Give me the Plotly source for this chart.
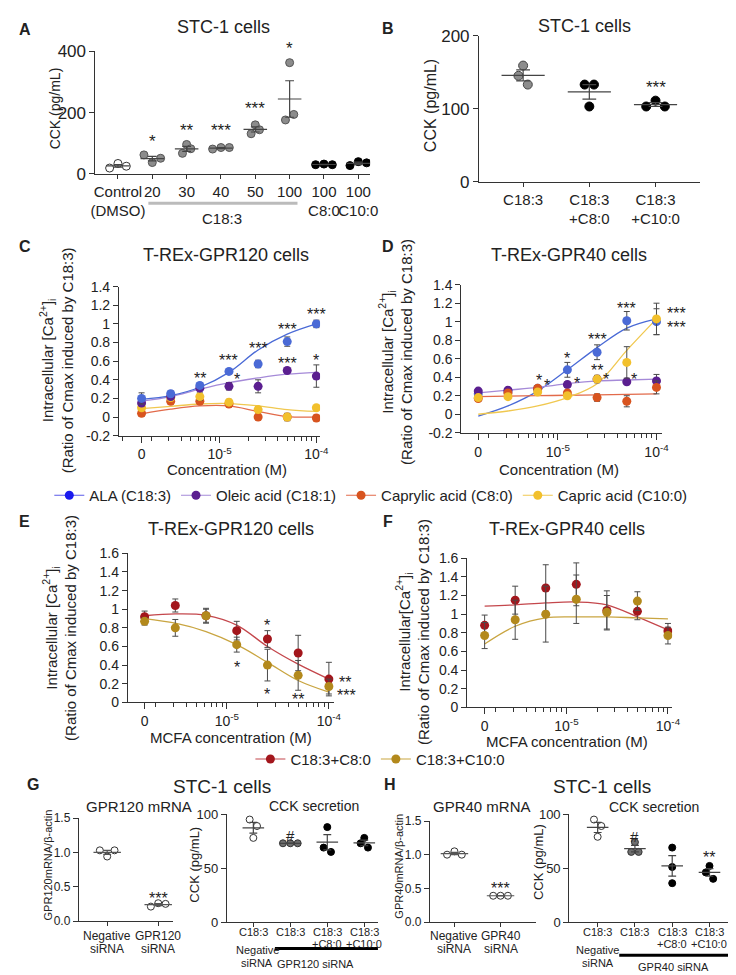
import numpy as np
import plotly.graph_objects as go

W, H = 736, 975
FONT = "Liberation Sans, Arial, sans-serif"
INK = "#222222"

# ---------------- data ----------------
# Panel A : STC-1 cells, CCK (pg/mL)
a_labels = ["Control<br>(DMSO)", "20", "30", "40", "50", "100", "100<br>C8:0", "100<br>C10:0"]
a_control = [19, 34, 25]
a_c18_20 = [62, 37, 51]
a_c18_30 = [96, 67, 82]
a_c18_40 = [81, 86, 86]
a_c18_50 = [160, 131, 144]
a_c18_100 = [363, 176, 194]
a_c8_100 = [30, 32, 30]
a_c10_100 = [27, 40, 36]
a_stars = ["", "*", "**", "***", "***", "*", "", ""]
a_star_y = [0, 117, 155, 155, 226, 421, 0, 0]

# Panel B
b_labels = ["C18:3", "C18:3<br>+C8:0", "C18:3<br>+C10:0"]
b_c18 = [159, 145, 133]
b_c18_c8 = [133, 133, 103]
b_c18_c10 = [103, 111, 103]

# Concentrations (M) for C-F; first point is the "0" label position
conc = [1.5625e-6, 3.125e-6, 6.25e-6, 1.25e-5, 2.5e-5, 5e-5, 1e-4]
conc_ticktext = ["0", "10<sup>-5</sup>", "10<sup>-4</sup>"]
conc_tickvals = [1.5625e-6, 1e-5, 1e-4]

# Panel C : T-REx-GPR120
c_ala = [0.20, 0.25, 0.34, 0.49, 0.57, 0.81, 1.00]
c_ala_err = [0.06, 0.03, 0.03, 0.02, 0.04, 0.05, 0.04]
c_ala_fit = [0.19, 0.23, 0.32, 0.48, 0.72, 0.89, 1.00]
c_ole = [0.15, 0.22, 0.31, 0.33, 0.33, 0.50, 0.44]
c_ole_err = [0.02, 0.02, 0.02, 0.04, 0.07, 0.02, 0.12]
c_ole_fit = [0.17, 0.22, 0.30, 0.37, 0.42, 0.46, 0.48]
c_cpy = [0.04, 0.17, 0.17, 0.14, 0.00, 0.00, -0.01]
c_cpy_err = [0.03, 0.03, 0.02, 0.03, 0.03, 0.03, 0.03]
c_cpy_fit = [0.035, 0.085, 0.12, 0.12, 0.06, 0.005, 0.0]
c_cpr = [0.10, 0.21, 0.22, 0.16, 0.08, 0.00, 0.10]
c_cpr_err = [0.03, 0.03, 0.04, 0.03, 0.03, 0.04, 0.02]
c_cpr_fit = [0.09, 0.115, 0.14, 0.145, 0.12, 0.08, 0.06]

# Panel D : T-REx-GPR40
d_ala = [0.22, 0.24, 0.28, 0.48, 0.67, 1.01, 1.00]
d_ala_err = [0.02, 0.02, 0.03, 0.08, 0.08, 0.10, 0.14]
d_ala_fit = [-0.02, 0.09, 0.25, 0.48, 0.72, 0.93, 1.03]
d_ole = [0.25, 0.26, 0.27, 0.32, 0.38, 0.35, 0.36]
d_ole_err = [0.02, 0.02, 0.02, 0.03, 0.03, 0.03, 0.07]
d_ole_fit = [0.23, 0.26, 0.29, 0.33, 0.36, 0.37, 0.38]
d_cpy = [0.17, 0.23, 0.28, 0.23, 0.18, 0.14, 0.29]
d_cpy_err = [0.03, 0.02, 0.03, 0.02, 0.04, 0.06, 0.07]
d_cpy_fit = [0.19, 0.195, 0.20, 0.205, 0.21, 0.215, 0.22]
d_cpr = [0.18, 0.19, 0.24, 0.20, 0.38, 0.56, 1.03]
d_cpr_err = [0.03, 0.02, 0.02, 0.02, 0.04, 0.17, 0.17]
d_cpr_fit = [0.0, 0.035, 0.09, 0.18, 0.33, 0.69, 1.03]

# Panel E : T-REx-GPR120, MCFA with C18:3
e_c8 = [0.92, 1.04, 0.93, 0.77, 0.68, 0.53, 0.25]
e_c8_err = [0.06, 0.07, 0.07, 0.10, 0.09, 0.19, 0.18]
e_c8_fit = [0.93, 0.95, 0.935, 0.83, 0.60, 0.41, 0.25]
e_c10 = [0.87, 0.80, 0.93, 0.62, 0.40, 0.29, 0.17]
e_c10_err = [0.04, 0.09, 0.08, 0.08, 0.17, 0.16, 0.08]
e_c10_fit = [0.90, 0.85, 0.76, 0.62, 0.43, 0.235, 0.11]

# Panel F : T-REx-GPR40
f_c8 = [0.88, 1.15, 1.28, 1.32, 1.04, 1.03, 0.82]
f_c8_err = [0.11, 0.15, 0.25, 0.23, 0.21, 0.09, 0.08]
f_c8_fit = [1.085, 1.10, 1.12, 1.13, 1.10, 0.97, 0.83]
f_c10 = [0.77, 0.94, 1.00, 1.16, 1.02, 1.14, 0.77]
f_c10_err = [0.14, 0.21, 0.30, 0.26, 0.18, 0.10, 0.09]
f_c10_fit = [0.68, 0.87, 0.96, 0.97, 0.97, 0.96, 0.95]

# Panel G
g1_labels = [["Negative", "siRNA"], ["GPR120", "siRNA"]]
g1_neg = [1.03, 0.94, 1.03]
g1_si = [0.21, 0.26, 0.25]
g2_labels = [["C18:3", ""], ["C18:3", ""], ["C18:3", "+C8:0"], ["C18:3", "+C10:0"]]
g2_neg = [95, 89, 78]
g2_si = [73, 73, 73]
g2_si_c8 = [88, 69, 65]
g2_si_c10 = [78, 73, 69]

# Panel H
h1_labels = [["Negative", "siRNA"], ["GPR40", "siRNA"]]
h1_neg = [1.00, 1.05, 1.00]
h1_si = [0.39, 0.39, 0.39]
h2_labels = [["C18:3", ""], ["C18:3", ""], ["C18:3", "+C8:0"], ["C18:3", "+C10:0"]]
h2_neg = [95, 89, 79]
h2_si = [74, 65, 65]
h2_si_c8 = [69, 51, 36]
h2_si_c10 = [52, 46, 40]

# ---------------- layout helpers ----------------
def P(x):
    return x / W


def Q(y):
    return 1 - y / H


# key: (index, x px domain, y px domain (top,bottom), x range, y range, type)
AX = {
    "A": (1, (84, 364), (35, 160), (-0.657, 7.343), (0, 400), "linear"),
    "B": (2, (475, 700), (19, 168), (-0.667, 2.667), (0, 200), "linear"),
    "C": (3, (108, 313), (275, 427), (-6.04, -3.962), (-0.2, 1.4), "log"),
    "D": (4, (457, 662), (273, 424), (-5.978, -3.94), (-0.2, 1.4), "log"),
    "E": (5, (117, 327), (547, 699), (-5.971, -3.952), (0, 1.6), "log"),
    "F": (6, (463, 672), (552, 704), (-5.978, -3.958), (0, 1.6), "log"),
    "G1": (7, (67, 163), (817, 922), (-0.558, 1.288), (0, 1.5), "linear"),
    "G2": (8, (218, 372), (813, 923), (-0.716, 3.369), (0, 100), "linear"),
    "H1": (9, (425, 533), (820, 923), (-0.532, 1.766), (0, 1.5), "linear"),
    "H2": (10, (567, 735), (813, 923), (-0.763, 3.658), (0, 100), "linear"),
}


def axref(key):
    n = AX[key][0]
    return ("x" if n == 1 else f"x{n}"), ("y" if n == 1 else f"y{n}")


def scale(key):
    _, xd, yd, xr, yr, _ = AX[key]
    return (xd[1] - xd[0]) / (xr[1] - xr[0]), (yd[1] - yd[0]) / (yr[1] - yr[0])


def to_px(key, x, y):
    _, xd, yd, xr, yr, typ = AX[key]
    xv = np.log10(x) if typ == "log" else x
    px = xd[0] + (xv - xr[0]) / (xr[1] - xr[0]) * (xd[1] - xd[0])
    py = yd[1] - (y - yr[0]) / (yr[1] - yr[0]) * (yd[1] - yd[0])
    return px, py


fig = go.Figure()
annotations = []
shapes = []


def text(x, y, s, size=13, bold=False, angle=0, xanchor="center", yanchor="middle", color=INK):
    annotations.append(dict(
        x=P(x), y=Q(y), xref="paper", yref="paper", text=(f"<b>{s}</b>" if bold else s),
        showarrow=False, textangle=angle, xanchor=xanchor, yanchor=yanchor,
        font=dict(family=FONT, size=size, color=color)))


def star(key, x, y, s, size=16):
    px, py = to_px(key, x, y)
    text(px, py + 4, s, size=size)


def cat_text(key, labels, y1, dy, size):
    for i, rows in enumerate(labels):
        px, _ = to_px(key, i, 0)
        for j, r in enumerate(rows):
            if r:
                text(px, y1 + j * dy, r, size=size)


def row_offsets(vals, ppy, d):
    n = len(vals)
    idx = sorted(range(n), key=lambda i: vals[i])
    rows = []
    for i in idx:
        if rows and (vals[i] - vals[rows[-1][0]]) * ppy < d:
            rows[-1].append(i)
        else:
            rows.append([i])
    off = [0.0] * n
    for r in rows:
        r = sorted(r)
        k = len(r)
        for j, i in enumerate(r):
            off[i] = (j - (k - 1) / 2) * d
    return off


def dot_group(key, c, vals, fill, edge, size, half_px, cap_px, mcolor="#333333", mwidth=1.2):
    xa, ya = axref(key)
    ppx, ppy = scale(key)
    offs = row_offsets(vals, ppy, size + 0.5)
    xs = [c + o / ppx for o in offs]
    fig.add_trace(go.Scatter(x=xs, y=vals, mode="markers", xaxis=xa, yaxis=ya, showlegend=False,
                             marker=dict(size=size, color=fill, line=dict(color=edge, width=1)),
                             hoverinfo="y"))
    m = float(np.mean(vals))
    s = float(np.std(vals, ddof=1) / np.sqrt(len(vals)))
    hw, cw = half_px / ppx, cap_px / ppx
    lx = [c - hw, c + hw, None, c, c, None, c - cw, c + cw, None, c - cw, c + cw]
    ly = [m, m, None, m - s, m + s, None, m - s, m - s, None, m + s, m + s]
    fig.add_trace(go.Scatter(x=lx, y=ly, mode="lines", xaxis=xa, yaxis=ya, showlegend=False,
                             line=dict(color=mcolor, width=mwidth), hoverinfo="skip"))


def curve_panel(key, series):
    xa, ya = axref(key)
    for vals, err, fit, mcol, lcol in series:
        fig.add_trace(go.Scatter(x=conc, y=fit, mode="lines", line=dict(color=lcol, width=1.3, shape="spline"),
                                 xaxis=xa, yaxis=ya, showlegend=False, hoverinfo="skip"))
    for vals, err, fit, mcol, lcol in series:
        fig.add_trace(go.Scatter(x=conc, y=vals, mode="markers", xaxis=xa, yaxis=ya, showlegend=False,
                                 marker=dict(size=9, color=mcol),
                                 error_y=dict(type="data", array=err, color="#4a4a4a", thickness=1, width=3)))


# colours
BLUE, BLUE_L = "#4a6ad6", "#4a6ad6"
PURP, PURP_L = "#5b1f90", "#a58ad8"
ORNG, ORNG_L = "#d8541f", "#e26a4a"
YELL, YELL_L = "#f2c02c", "#f0c850"
RED, RED_L = "#a3161c", "#c4474c"
OLIV, OLIV_L = "#b3891c", "#c9a541"
GREY = "#8c8c8c"

# ---------------- Panel A ----------------
a_groups = [a_control, a_c18_20, a_c18_30, a_c18_40, a_c18_50, a_c18_100, a_c8_100, a_c10_100]
a_fill = ["white"] + [GREY] * 5 + ["black"] * 2
a_edge = ["#333333"] + ["#555555"] * 5 + ["black"] * 2
for i, g in enumerate(a_groups):
    dot_group("A", i, g, a_fill[i], a_edge[i], 8, 12, 4.5, mcolor="#444444")
for i, s in enumerate(a_stars):
    if s:
        star("A", i, a_star_y[i], s, size=17)

# ---------------- Panel B ----------------
for i, (g, f) in enumerate(zip([b_c18, b_c18_c8, b_c18_c10], [GREY, "black", "black"])):
    dot_group("B", i, g, f, "#444444" if f == GREY else "black", 9, 22, 7, mcolor="#444444")
star("B", 2, 134, "***", size=17)

# ---------------- Panel C ----------------
curve_panel("C", [
    (c_cpy, c_cpy_err, c_cpy_fit, ORNG, ORNG_L),
    (c_cpr, c_cpr_err, c_cpr_fit, YELL, YELL_L),
    (c_ole, c_ole_err, c_ole_fit, PURP, PURP_L),
    (c_ala, c_ala_err, c_ala_fit, BLUE, BLUE_L),
])
for x, y, s in [(6.25e-6, 0.455, "**"), (1.25e-5, 0.65, "***"), (1.5e-5, 0.44, "*"),
                (2.5e-5, 0.78, "***"), (5e-5, 0.98, "***"), (5e-5, 0.62, "***"),
                (1e-4, 1.145, "***"), (1e-4, 0.65, "*")]:
    star("C", x, y, s)

# ---------------- Panel D ----------------
curve_panel("D", [
    (d_ala, d_ala_err, d_ala_fit, BLUE, BLUE_L),
    (d_ole, d_ole_err, d_ole_fit, PURP, PURP_L),
    (d_cpy, d_cpy_err, d_cpy_fit, ORNG, ORNG_L),
    (d_cpr, d_cpr_err, d_cpr_fit, YELL, YELL_L),
])
for x, y, s in [(5e-5, 1.19, "***"), (2.5e-5, 0.85, "***"), (1.25e-5, 0.65, "*"),
                (2.5e-5, 0.52, "**"), (6.5e-6, 0.41, "*"), (7.7e-6, 0.35, "*"),
                (1.57e-5, 0.37, "*"), (3.1e-5, 0.42, "*"), (5.9e-5, 0.42, "*"),
                (1.6e-4, 1.13, "***"), (1.6e-4, 0.98, "***")]:
    star("D", x, y, s)

# ---------------- Panel E / F ----------------
curve_panel("E", [(e_c8, e_c8_err, e_c8_fit, RED, RED_L), (e_c10, e_c10_err, e_c10_fit, OLIV, OLIV_L)])
for x, y, s in [(2.5e-5, 0.865, "*"), (1.25e-5, 0.42, "*"), (2.5e-5, 0.13, "*"),
                (5e-5, 0.07, "**"), (1.43e-4, 0.26, "**"), (1.5e-4, 0.12, "***")]:
    star("E", x, y, s)
curve_panel("F", [(f_c8, f_c8_err, f_c8_fit, RED, RED_L), (f_c10, f_c10_err, f_c10_fit, OLIV, OLIV_L)])

# ---------------- Panel G / H ----------------
dot_group("G1", 0, g1_neg, "white", "#333333", 7, 14, 4, mcolor="#555555")
dot_group("G1", 1, g1_si, "white", "#333333", 7, 14, 4, mcolor="#555555")
star("G1", 1, 0.38, "***")
for i, (g, f) in enumerate(zip([g2_neg, g2_si, g2_si_c8, g2_si_c10], ["white", "#6e6e6e", "black", "black"])):
    dot_group("G2", i, g, f, "#333333" if f != "black" else "black", 7, 11, 4, mcolor="#444444")
star("G2", 1, 84, "#", size=15)

dot_group("H1", 0, h1_neg, "white", "#333333", 7, 14, 4, mcolor="#555555")
dot_group("H1", 1, h1_si, "white", "#333333", 7, 14, 4, mcolor="#555555")
star("H1", 1, 0.55, "***")
for i, (g, f) in enumerate(zip([h2_neg, h2_si, h2_si_c8, h2_si_c10], ["white", "#6e6e6e", "black", "black"])):
    dot_group("H2", i, g, f, "#333333" if f != "black" else "black", 7, 11, 4, mcolor="#444444")
star("H2", 1, 83, "#", size=15)
star("H2", 3, 63, "**")

# ---------------- legends (dummy traces) ----------------
for name, mc, lc in [("ALA (C18:3)", "#1a1aee", "#5a5ae8"), ("Oleic acid (C18:1)", PURP, PURP_L),
                     ("Caprylic acid (C8:0)", ORNG, ORNG_L), ("Capric acid (C10:0)", YELL, YELL_L)]:
    fig.add_trace(go.Scatter(x=[None], y=[None], mode="lines+markers", name=name, legend="legend",
                             xaxis="x3", yaxis="y3", marker=dict(color=mc, size=9), line=dict(color=lc, width=1.2)))
for name, mc, lc in [("C18:3+C8:0", RED, RED_L), ("C18:3+C10:0", OLIV, OLIV_L)]:
    fig.add_trace(go.Scatter(x=[None], y=[None], mode="lines+markers", name=name, legend="legend2",
                             xaxis="x5", yaxis="y5", marker=dict(color=mc, size=9), line=dict(color=lc, width=1.2)))

# ---------------- axes ----------------
layout = dict(width=W, height=H, margin=dict(l=0, r=0, t=0, b=0), plot_bgcolor="white",
              paper_bgcolor="white", font=dict(family=FONT, color=INK), showlegend=True)

minor_vals = [k * 1e-6 for k in range(1, 10)] + [k * 1e-5 for k in range(2, 10)]
tick_cats = {"A": a_labels, "B": b_labels}
n_cats = {"G1": 2, "G2": 4, "H1": 2, "H2": 4}
xtick_font = {"A": 15, "B": 15}
ca_ticks = ["-0.2", "0", "0.2", "0.4", "0.6", "0.8", "1", "1.2", "1.4"]
ef_ticks = ["0", "0.2", "0.4", "0.6", "0.8", "1", "1.2", "1.4", "1.6"]
ytick = {
    "A": ([0, 200, 400], None, 17), "B": ([0, 100, 200], None, 17),
    "C": ([-0.2 + 0.2 * k for k in range(9)], ca_ticks, 14),
    "D": ([-0.2 + 0.2 * k for k in range(9)], ca_ticks, 14),
    "E": ([0.2 * k for k in range(9)], ef_ticks, 14),
    "F": ([0.2 * k for k in range(9)], ef_ticks, 14),
    "G1": ([0, 0.5, 1.0, 1.5], ["0.0", "0.5", "1.0", "1.5"], 12), "G2": ([0, 50, 100], None, 13),
    "H1": ([0, 0.5, 1.0, 1.5], ["0.0", "0.5", "1.0", "1.5"], 12), "H2": ([0, 50, 100], None, 13),
}
for key, (n, xd, yd, xr, yr, typ) in AX.items():
    sx = "" if n == 1 else str(n)
    xa = dict(domain=[P(xd[0]), P(xd[1])], range=list(xr), type=typ, anchor="y" + sx,
              showline=True, linecolor="#333333", linewidth=1, ticks="outside", tickcolor="#333333",
              showgrid=False, zeroline=False, fixedrange=True, tickangle=0)
    if typ == "log":
        xa.update(tickmode="array", tickvals=conc_tickvals, ticktext=conc_ticktext, ticklen=6,
                  tickfont=dict(size=14),
                  minor=dict(tickmode="array", tickvals=minor_vals, ticks="outside", ticklen=4,
                             tickcolor="#333333", showgrid=False))
    elif key in tick_cats:
        labs = tick_cats[key]
        xa.update(tickmode="array", tickvals=list(range(len(labs))), ticktext=labs, ticklen=4,
                  tickfont=dict(size=xtick_font[key]))
    else:
        xa.update(tickmode="array", tickvals=list(range(n_cats[key])), showticklabels=False, ticklen=4)
    tv, tt, tf = ytick[key]
    ya = dict(domain=[Q(yd[1]), Q(yd[0])], range=list(yr), anchor="x" + sx, showline=True,
              linecolor="#333333", linewidth=1, ticks="outside", ticklen=5, tickcolor="#333333",
              showgrid=False, zeroline=False, tickmode="array", tickvals=tv, tickfont=dict(size=tf),
              fixedrange=True)
    if tt is not None:
        ya["ticktext"] = tt
    layout["xaxis" + sx] = xa
    layout["yaxis" + sx] = ya

layout["legend"] = dict(orientation="h", x=P(37), y=Q(488), xanchor="left", yanchor="middle",
                        font=dict(size=15, family=FONT), bgcolor="rgba(0,0,0,0)", tracegroupgap=0)
layout["legend2"] = dict(orientation="h", x=P(242), y=Q(757), xanchor="left", yanchor="middle",
                         font=dict(size=15, family=FONT), bgcolor="rgba(0,0,0,0)")

# ---------------- text labels ----------------
# panel letters
for s, x, y in [("A", 12, 13), ("B", 382, 12), ("C", 12, 234), ("D", 382, 234),
                ("E", 12, 515), ("F", 382, 515), ("G", 20, 783), ("H", 384, 783)]:
    text(x, y, s, size=16, bold=True)
# titles
text(215, 10, "STC-1 cells", size=18)
text(583, 9, "STC-1 cells", size=18)
text(217, 243, "T-REx-GPR120 cells", size=18)
text(567, 243, "T-REx-GPR40 cells", size=18)
text(222, 522, "T-REx-GPR120 cells", size=18)
text(565, 522, "T-REx-GPR40 cells", size=18)
text(213, 785, "STC-1 cells", size=19)
text(600, 785, "STC-1 cells", size=19)
text(128, 805, "GPR120 mRNA", size=15)
text(307, 805, "CCK secretion", size=14)
text(478, 805, "GPR40 mRNA", size=15)
text(653, 806, "CCK secretion", size=14)
# y titles
text(43, 93, "CCK (pg/mL)", size=14, angle=-90)
text(425, 90, "CCK (pg/mL)", size=16, angle=-90)
ca_title = "Intracellular [Ca<sup>2+</sup>]<sub>i</sub><br>(Ratio of Cmax induced by C18:3)"
text(44, 350, ca_title, size=15, angle=-90)
text(390, 342, ca_title, size=15, angle=-90)
text(48, 623, ca_title, size=15, angle=-90)
text(408, 627, "Intracellular[Ca<sup>2+</sup>]<sub>i</sub><br>(Ratio of Cmax induced by C18:3)", size=15, angle=-90)
text(36, 865, "GPR120mRNA/β-actin", size=11, angle=-90)
text(185, 864, "CCK (pg/mL)", size=13, angle=-90)
text(394, 866, "GPR40mRNA/β-actin", size=11, angle=-90)
text(535, 862, "CCK (pg/mL)", size=13, angle=-90)
# x titles
text(218, 461, "Concentration (M)", size=15)
text(557, 461, "Concentration (M)", size=15)
text(222, 735, "MCFA concentration (M)", size=15)
text(565, 739, "MCFA concentration (M)", size=15)
# category labels G / H
cat_text("G1", g1_labels, 937, 14, 12)
cat_text("H1", h1_labels, 937, 14, 12)
cat_text("G2", g2_labels, 933, 12.5, 11)
cat_text("H2", h2_labels, 933, 12.5, 11)
# group labels
shapes.append(dict(type="line", xref="paper", yref="paper", x0=P(138), x1=P(290), y0=Q(190), y1=Q(190),
                   line=dict(color="#bbbbbb", width=3)))
text(213, 205, "C18:3", size=15)
text(249, 952, "Negative", size=11)
text(249, 965, "siRNA", size=11)
shapes.append(dict(type="line", xref="paper", yref="paper", x0=P(267), x1=P(372), y0=Q(950), y1=Q(950),
                   line=dict(color="black", width=3)))
text(308, 966, "GPR120 siRNA", size=11)
text(596, 952, "Negative", size=11)
text(596, 965, "siRNA", size=11)
shapes.append(dict(type="line", xref="paper", yref="paper", x0=P(618), x1=P(735), y0=Q(957), y1=Q(957),
                   line=dict(color="black", width=3)))
text(673, 969, "GPR40 siRNA", size=11)

layout["annotations"] = annotations
layout["shapes"] = shapes
fig.update_layout(**layout)
fig.write_html("out.html")
